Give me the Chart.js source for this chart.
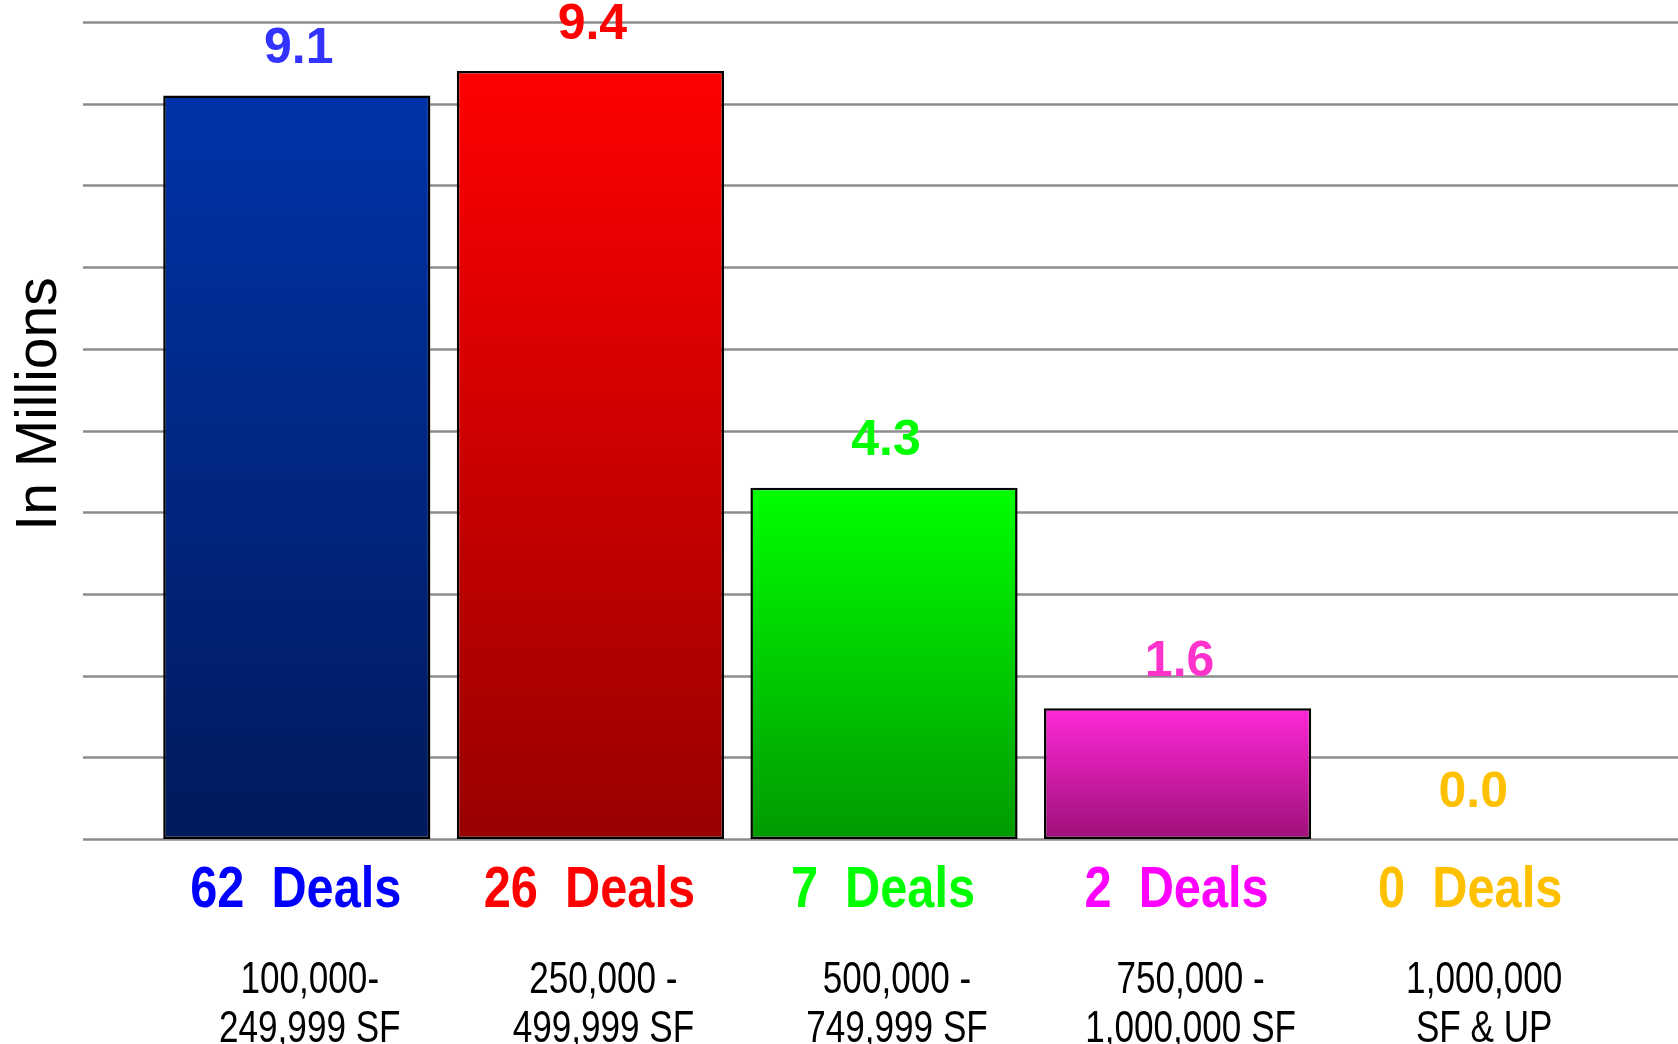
<!DOCTYPE html>
<html>
<head>
<meta charset="utf-8">
<script src="https://cdn.jsdelivr.net/npm/chart.js@4/dist/chart.umd.min.js"></script>
<style>
  html, body { margin: 0; padding: 0; background: #fff; }
  #wrap { width: 1678px; height: 1044px; }
</style>
</head>
<body>
<div id="wrap"><canvas id="dealsChart" width="1678" height="1044"></canvas></div>
<script>
// data
const sizeRanges = [
  ['100,000-', '249,999 SF'],
  ['250,000 -', '499,999 SF'],
  ['500,000 -', '749,999 SF'],
  ['750,000 -', '1,000,000 SF'],
  ['1,000,000', 'SF & UP']
];
const sqftMillions = [9.1, 9.4, 4.3, 1.6, 0.0];
const dealCounts = [62, 26, 7, 2, 0];
const yTicks = [0, 1, 2, 3, 4, 5, 6, 7, 8, 9, 10];

// colours
const barTop = ['#0033a8', '#ff0000', '#00ff00', '#ff28d8', '#ffc000'];
const barBottom = ['#001a5c', '#980000', '#009a00', '#9e1078', '#ffc000'];
const valueColors = ['#3333ff', '#ff0000', '#00ff00', '#ff33cc', '#ffc000'];
const dealColors = ['#0000ff', '#ff0000', '#00ff00', '#ff00ff', '#ffc000'];

function barGradient(context) {
  const chart = context.chart;
  const i = context.dataIndex;
  if (!chart.chartArea || !chart.scales.y) return barTop[i];
  const y = chart.scales.y;
  const top = y.getPixelForValue(sqftMillions[i]);
  const bottom = y.getPixelForValue(0);
  if (bottom - top < 1) return barTop[i];
  const g = chart.ctx.createLinearGradient(0, top, 0, bottom);
  g.addColorStop(0, barTop[i]);
  g.addColorStop(1, barBottom[i]);
  return g;
}

// squeezed text, the original uses condensed faces
function narrowText(ctx, text, x, y, squeeze) {
  ctx.save();
  ctx.translate(x, y);
  ctx.scale(squeeze, 1);
  ctx.fillText(text, 0, 0);
  ctx.restore();
}

// grid lines run wider than the bar area, so draw them ourselves
const gridPlugin = {
  id: 'wideGrid',
  beforeDatasetsDraw(chart) {
    const ctx = chart.ctx;
    const y = chart.scales.y;
    ctx.save();
    ctx.strokeStyle = '#8c8c8c';
    ctx.lineWidth = 2.5;
    yTicks.forEach(v => {
      const py = Math.round(y.getPixelForValue(v)) + 0.5;
      ctx.beginPath();
      ctx.moveTo(83, py);
      ctx.lineTo(chart.width, py);
      ctx.stroke();
    });
    ctx.restore();
  }
};

const labelPlugin = {
  id: 'labels',
  afterDatasetsDraw(chart) {
    const ctx = chart.ctx;
    const meta = chart.getDatasetMeta(0);
    const x = chart.scales.x;
    ctx.save();
    ctx.textAlign = 'center';
    ctx.textBaseline = 'middle';

    // values above bars
    ctx.font = 'bold 50px "Liberation Sans", Arial, sans-serif';
    meta.data.forEach((bar, i) => {
      ctx.fillStyle = valueColors[i];
      ctx.fillText(sqftMillions[i].toFixed(1), bar.x + 2, bar.y - 46);
    });

    // deal counts and size ranges under the axis
    sizeRanges.forEach((lines, i) => {
      const px = x.getPixelForValue(i);
      ctx.font = 'bold 58px "Liberation Sans", Arial, sans-serif';
      ctx.fillStyle = dealColors[i];
      narrowText(ctx, dealCounts[i] + '  Deals', px - 1, 891, 0.84);

      ctx.font = '45px "Liberation Sans", Arial, sans-serif';
      ctx.fillStyle = '#000';
      narrowText(ctx, lines[0], px + 13, 981, 0.78);
      narrowText(ctx, lines[1], px + 13, 1030, 0.78);
    });

    // axis title
    ctx.translate(40, 404);
    ctx.rotate(-Math.PI / 2);
    ctx.font = '57px "Liberation Sans", Arial, sans-serif';
    ctx.fillStyle = '#000';
    ctx.fillText('In Millions', 0, 0);
    ctx.restore();
  }
};

new Chart(document.getElementById('dealsChart'), {
  type: 'bar',
  data: {
    labels: sizeRanges.map(l => l.join(' ')),
    datasets: [{
      data: sqftMillions,
      backgroundColor: barGradient,
      borderColor: '#000',
      borderWidth: 2.5,
      borderSkipped: false,
      barPercentage: 0.91,
      categoryPercentage: 1.0
    }]
  },
  options: {
    responsive: false,
    animation: false,
    devicePixelRatio: 1,
    layout: { padding: { left: 150, right: 60, top: 22, bottom: 205 } },
    plugins: { legend: { display: false }, tooltip: { enabled: false } },
    scales: {
      x: { display: false },
      y: { display: false, min: 0, max: 10 }
    }
  },
  plugins: [gridPlugin, labelPlugin]
});
</script>
</body>
</html>
